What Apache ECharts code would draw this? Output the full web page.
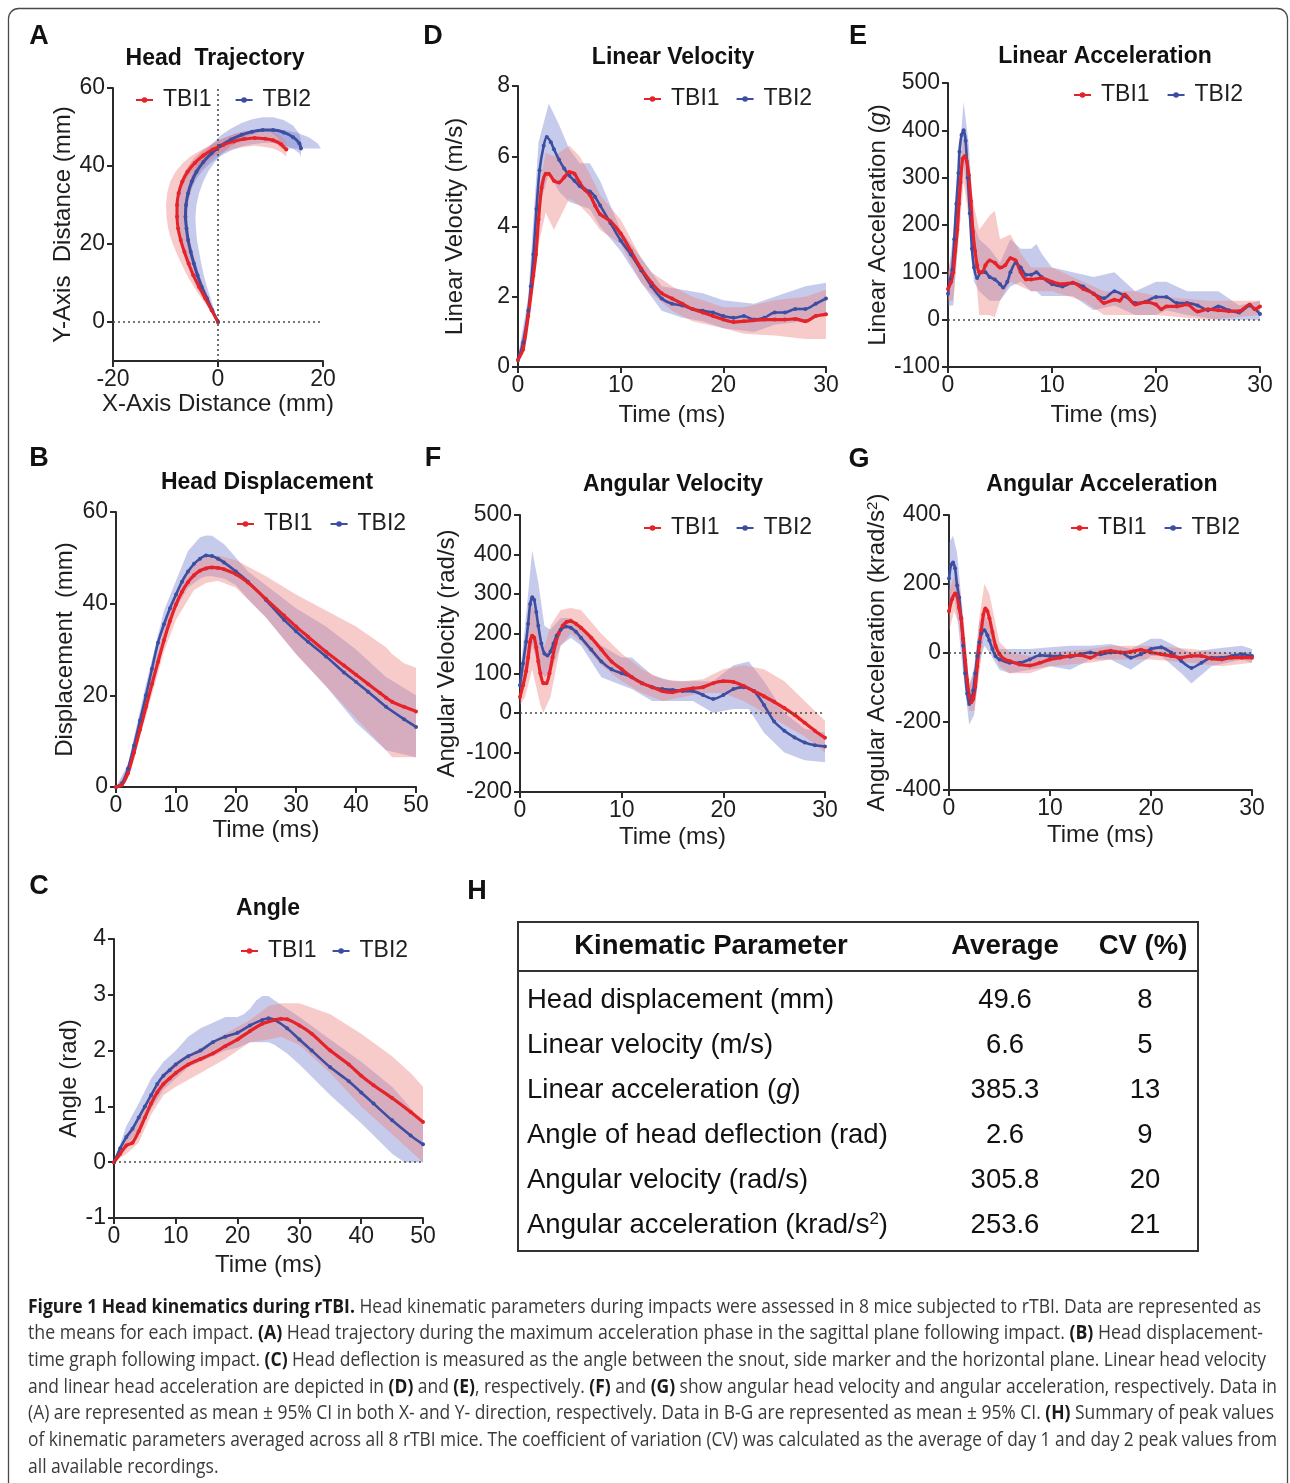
<!DOCTYPE html>
<html>
<head>
<meta charset="utf-8">
<script src="https://cdn.jsdelivr.net/npm/echarts@6/dist/echarts.min.js"></script>
<style>
html,body{margin:0;padding:0;background:#fff;}
#c{width:1290px;height:1483px;}
</style>
</head>
<body>
<div id="c"></div>
<script>
// ---------------- DATA ----------------
// A: head trajectory [x, y, xErr, yErr] (mm)
const trajTBI1 = [[0,0,0.1,0.1],[-1.2,3,0.4,0.2],[-2.4,6,0.7,0.3],[-3.6,9,1.0,0.4],[-4.7,12,1.2,0.5],[-5.6,15,1.4,0.6],[-6.4,18,1.6,0.6],[-7.1,21,1.8,0.7],[-7.6,24,1.9,0.8],[-7.8,27,2.0,0.9],[-7.8,30,2.1,1.0],[-7.5,33,2.2,1.1],[-6.8,36,2.3,1.2],[-5.8,38.5,2.3,1.3],[-4.4,40.8,2.3,1.5],[-2.8,42.7,2.2,1.6],[-1,44.2,2.0,1.7],[1,45.4,1.8,1.8],[3,46.3,1.5,1.9],[5,46.9,1.2,2.0],[7,47.2,1.0,2.0],[9,47.0,0.9,2.1],[10.5,46.6,0.8,2.1],[12,45.6,0.8,2.0],[13,44.2,0.6,1.8]];
const trajTBI2 = [[0,0,0.1,0.1],[-1.1,3,0.4,0.2],[-2.1,6,0.7,0.3],[-3.1,9,1.0,0.4],[-3.9,12,1.2,0.5],[-4.6,15,1.4,0.6],[-5.2,18,1.6,0.7],[-5.7,21,1.7,0.8],[-6.0,24,1.8,0.9],[-6.2,27,1.9,1.0],[-6.1,30,2.0,1.2],[-5.7,33,2.1,1.4],[-5.0,36,2.2,1.6],[-4.1,38.5,2.2,1.8],[-2.8,41,2.2,2.0],[-1.2,43.3,2.1,2.3],[0.5,45.2,2.0,2.6],[2.5,46.8,1.9,2.8],[4.5,48,1.8,3.0],[6.5,48.8,1.8,3.2],[8.5,49.2,1.8,3.3],[10.5,49.2,2.0,3.3],[12.5,48.6,2.4,3.2],[14.3,47.4,3.0,3.0],[15.5,45.8,3.5,2.5],[15.8,44.5,3.8,2.2]];

// B: head displacement [t(ms), mm]  and CI bands [t, lo, hi]
const dispTBI1 = [[0,0],[1,0.5],[2,3],[3,7.5],[4,12.5],[5,17.5],[6,22.5],[7,27.3],[8,32],[9,36.2],[10,39.8],[11,42.6],[12,44.7],[13,46.2],[14,47.2],[15,47.7],[16,47.9],[17,47.8],[18,47.5],[20,46.4],[22,44.6],[25,41],[28,37.4],[30,35],[32,32.8],[35,29.5],[38,26.5],[40,24.5],[42,22.5],[44,20.5],[45,19.5],[46,18.6],[48,17.5],[50,16.5]];
const dispTBI2 = [[0,0],[1,0.8],[2,4],[3,9],[4,14.5],[5,20],[6,25.8],[7,31.5],[8,35.5],[9,39],[10,42],[11,44.8],[12,47],[13,48.7],[14,49.8],[15,50.5],[16,50.4],[17,49.8],[18,49],[20,47],[22,44.8],[25,40.8],[28,36.5],[30,34],[32,31.7],[35,28.5],[38,25],[40,22.9],[42,20.8],[45,17.5],[48,14.8],[50,13.1]];
const dispBand1 = [[0,0,0],[2,2,4],[5,15.5,19.5],[8,29.5,34.5],[10,36.5,42],[13,43,49],[15,44.5,50],[17,45,50.5],[20,43.5,49.5],[25,37,46],[30,29,42],[35,22,38.5],[40,15,35],[45,8,30.5],[46,6.5,29],[48,6.5,27],[50,6.5,26]];
const dispBand2 = [[0,0,0],[2,3,5],[5,17.5,22.5],[8,32,38.5],[10,39,45],[12,43.5,51.5],[14,45.5,54.5],[15,46,54.9],[16,46,54.8],[18,45.5,53],[20,44,50],[22,41,47],[25,37,44],[30,29,39],[35,22,35],[40,14,30],[45,8,24],[50,6.5,20]];

// C: angle [t, rad]
const angTBI1 = [[0,0],[1,0.15],[2,0.3],[3,0.35],[4,0.55],[5,0.8],[6,1.05],[7,1.25],[8,1.4],[9,1.5],[10,1.6],[12,1.75],[14,1.85],[16,1.95],[18,2.08],[20,2.2],[22,2.35],[24,2.48],[26,2.55],[27,2.57],[28,2.56],[30,2.45],[32,2.3],[35,2.0],[38,1.75],[40,1.55],[42,1.38],[45,1.15],[48,0.9],[50,0.72]];
const angTBI2 = [[0,0],[1,0.25],[2,0.45],[3,0.6],[4,0.8],[5,1.0],[6,1.2],[7,1.4],[8,1.55],[9,1.65],[10,1.75],[12,1.9],[14,2.0],[16,2.15],[18,2.25],[20,2.32],[22,2.45],[24,2.55],[25,2.58],[26,2.55],[28,2.4],[30,2.2],[32,2.0],[35,1.7],[38,1.45],[40,1.25],[42,1.05],[45,0.75],[48,0.48],[50,0.32]];
const angBand1 = [[0,0,0],[2,0.15,0.5],[4,0.35,0.75],[6,0.85,1.25],[8,1.2,1.6],[10,1.35,1.8],[14,1.6,2.05],[18,1.85,2.3],[22,2.15,2.55],[25,2.2,2.8],[27,2.25,2.85],[30,2.1,2.85],[35,1.6,2.65],[40,1.0,2.3],[45,0.5,1.9],[48,0.2,1.6],[50,0,1.35]];
const angBand2 = [[0,0,0],[2,0.3,0.65],[4,0.55,1.05],[6,0.95,1.5],[8,1.3,1.8],[10,1.5,2.0],[12,1.7,2.25],[14,1.8,2.4],[16,1.9,2.5],[18,2.0,2.6],[20,2.05,2.6],[21,2.1,2.65],[22,2.15,2.75],[23,2.15,2.9],[24,2.15,2.98],[25,2.15,2.98],[26,2.1,2.9],[28,1.95,2.75],[30,1.75,2.6],[35,1.2,2.2],[40,0.7,1.8],[45,0.15,1.35],[47,0,1.1],[50,0,0.7]];

// D: linear velocity [t, m/s]
const velTBI1 = [[0,0.2],[0.5,0.5],[1,1.45],[1.5,2.6],[1.75,3.2],[2,4.2],[2.3,5.1],[2.7,5.5],[3,5.5],[3.5,5.3],[4,5.25],[4.5,5.4],[5,5.55],[5.5,5.5],[6,5.25],[6.5,5.05],[7,4.9],[7.5,4.6],[8,4.35],[9,4.15],[10,3.8],[11,3.3],[12,2.8],[13,2.4],[14,2.1],[15,1.95],[16,1.8],[17,1.65],[18,1.55],[19,1.45],[20,1.35],[21,1.28],[22,1.3],[23,1.33],[24,1.35],[25,1.35],[26,1.35],[27,1.37],[28,1.3],[29,1.45],[30,1.5]];
const velTBI2 = [[0,0.2],[0.5,0.7],[1,1.6],[1.25,2.3],[1.5,3.2],[1.8,4.5],[2.1,5.6],[2.5,6.3],[2.8,6.55],[3.2,6.4],[3.5,6.2],[4,5.9],[4.5,5.65],[5,5.45],[5.5,5.3],[6,5.15],[6.5,5.05],[7,5.0],[7.5,4.85],[8,4.6],[9,4.1],[10,3.6],[11,3.2],[12,2.75],[13,2.3],[14,1.95],[15,1.8],[16,1.75],[17,1.65],[18,1.6],[19,1.55],[20,1.45],[21,1.4],[22,1.45],[23,1.35],[24,1.4],[25,1.55],[26,1.55],[27,1.65],[28,1.65],[29,1.8],[30,1.95]];
const velBand1 = [[0,0.1,0.3],[1,1.2,1.7],[2,3.5,5.0],[2.7,4.4,6.1],[3.5,3.9,6.0],[4.5,4.5,6.2],[5,4.8,6.3],[6,4.6,6.0],[7,4.3,5.5],[8,3.9,4.9],[10,3.5,4.2],[12,2.4,3.1],[13,2.1,2.7],[15,1.6,2.3],[17,1.3,2.0],[20,1.1,1.7],[22,0.95,1.7],[25,0.9,1.9],[28,0.8,2.0],[30,0.8,2.2]];
const velBand2 = [[0,0.1,0.3],[1,1.3,2.0],[2,4.5,6.4],[3,5.5,7.5],[4,5.0,6.9],[5,4.7,6.2],[6,4.6,5.8],[7,4.5,5.8],[8,4.0,5.3],[10,3.3,3.9],[12,2.4,3.1],[14,1.6,2.3],[16,1.4,2.2],[18,1.3,2.1],[20,1.1,1.9],[23,1.0,1.8],[25,1.2,2.0],[28,1.3,2.3],[30,1.5,2.4]];

// E: linear acceleration [t, g]
const accTBI1 = [[0,65],[0.3,80],[0.5,100],[0.7,145],[0.9,190],[1.05,245],[1.2,290],[1.4,340],[1.6,345],[1.8,335],[2.0,305],[2.2,250],[2.4,185],[2.6,145],[2.8,115],[3.0,100],[3.3,100],[3.6,115],[4.0,125],[4.5,120],[5,110],[5.5,115],[6,130],[6.5,125],[7,100],[7.5,85],[8,85],[9,88],[10,80],[11,75],[12,78],[13,65],[14,55],[14.5,45],[15,35],[16,42],[16.5,40],[17,53],[18,32],[19,37],[20,32],[20.5,22],[21,28],[22,28],[23,32],[24,17],[25,22],[26,20],[27,18],[28,18],[29,32],[29.5,22],[30,28]];
const accTBI2 = [[0,55],[0.2,85],[0.4,105],[0.6,170],[0.8,245],[1.0,310],[1.1,355],[1.3,390],[1.5,400],[1.7,378],[1.9,300],[2.1,225],[2.3,150],[2.5,110],[2.8,88],[3.2,100],[3.6,100],[4.0,90],[4.5,85],[5,75],[5.3,68],[5.7,80],[6,100],[6.5,120],[7,110],[7.5,95],[8,95],[8.5,100],[9,90],[10,75],[11,70],[12,78],[13,70],[14,55],[15,45],[16,60],[17,50],[18,35],[19,38],[20,48],[21,48],[22,35],[23,35],[24,30],[25,20],[26,28],[27,20],[28,15],[29,30],[30,12]];
const accBand1 = [[0,40,100],[0.5,40,150],[1.5,290,390],[2.5,140,240],[3,10,190],[4,10,220],[4.5,5,230],[5,40,170],[6,80,180],[7,70,140],[8,60,110],[10,60,110],[13,40,80],[15,10,60],[18,10,60],[20,10,50],[25,0,40],[30,10,40]];
const accBand2 = [[0,30,90],[0.5,30,180],[1.5,330,460],[2,230,370],[2.5,80,200],[3,60,170],[4,40,150],[5,40,120],[6,70,170],[7,80,150],[8,60,150],[8.5,60,160],[9,50,140],[10,50,110],[12,50,100],[14,20,90],[16,30,100],[18,10,60],[20,10,80],[21,20,80],[23,10,60],[26,0,60],[28,0,30],[30,0,40]];

// F: angular velocity [t, rad/s]
const avTBI1 = [[0,40],[0.3,70],[0.6,105],[0.8,140],[1.0,180],[1.2,195],[1.4,190],[1.6,165],[1.8,130],[2.0,100],[2.3,75],[2.6,75],[2.9,100],[3.2,140],[3.5,175],[3.8,200],[4.2,220],[4.6,230],[5,232],[5.5,225],[6,215],[7,190],[8,160],[9,130],[10,110],[11,90],[12,75],[13,65],[14,55],[15,52],[16,58],[17,62],[18,65],[19,75],[20,80],[21,78],[22,68],[23,55],[24,42],[25,28],[26,12],[27,-5],[28,-25],[29,-45],[30,-63]];
const avTBI2 = [[0,70],[0.3,125],[0.6,180],[0.8,225],[1.0,275],[1.2,292],[1.4,285],[1.6,255],[1.8,220],[2.1,175],[2.4,150],[2.7,145],[3.0,155],[3.3,175],[3.6,195],[4,210],[4.5,218],[5,215],[5.5,205],[6,190],[7,160],[8,130],[9,110],[10,100],[11,90],[12,75],[13,65],[14,60],[15,58],[16,55],[17,55],[18,45],[19,35],[20,45],[21,60],[22,65],[23,55],[24,20],[25,-22],[26,-45],[27,-62],[28,-75],[29,-82],[30,-85]];
const avBand1 = [[0,20,60],[0.5,40,140],[1.2,110,280],[2.0,20,200],[2.3,0,160],[3,40,220],[4,170,260],[5,200,265],[6,180,260],[8,120,200],[10,80,150],[12,50,110],[14,30,85],[16,40,80],[18,50,85],[20,50,110],[22,30,120],[24,0,110],[26,-30,80],[28,-60,30],[30,-100,-20]];
const avBand2 = [[0,40,100],[0.5,70,220],[1.2,170,410],[1.8,120,330],[2.4,90,220],[3,100,210],[4,170,240],[5,190,240],[6,170,220],[8,90,170],[10,70,140],[11,60,140],[13,30,95],[15,30,80],[17,30,80],[19,0,80],[21,10,120],[22.5,10,130],[24,-50,80],[26,-100,0],[28,-120,-40],[30,-125,-50]];

// G: angular acceleration [t, krad/s^2]
const aaTBI1 = [[0,120],[0.3,155],[0.6,172],[0.8,165],[1.0,130],[1.2,100],[1.4,40],[1.6,-22],[1.8,-80],[2.0,-125],[2.2,-145],[2.4,-135],[2.6,-100],[2.8,-40],[3.0,20],[3.2,65],[3.4,110],[3.6,128],[3.8,120],[4.0,100],[4.3,60],[4.6,20],[5,-5],[5.5,-20],[6,-25],[7,-35],[8,-38],[9,-30],[10,-20],[11,-15],[12,-10],[13,-8],[14,-15],[15,0],[16,5],[17,0],[18,2],[19,8],[20,0],[21,-5],[22,-10],[23,-15],[24,-10],[25,-10],[26,-18],[27,-20],[28,-15],[29,-15],[30,-15]];
const aaTBI2 = [[0,215],[0.2,255],[0.4,262],[0.6,245],[0.8,195],[1.0,160],[1.2,100],[1.4,20],[1.6,-60],[1.8,-120],[2.0,-150],[2.2,-140],[2.4,-110],[2.6,-60],[2.8,-10],[3.0,30],[3.2,55],[3.5,65],[3.8,50],[4.0,35],[4.3,10],[4.6,-10],[5,-20],[6,-30],[7,-30],[8,-20],[9,-8],[10,-10],[11,-10],[12,-12],[13,-5],[14,0],[15,-5],[16,0],[17,0],[18,-15],[19,-5],[20,10],[21,15],[22,0],[23,-25],[24,-45],[25,-30],[26,-15],[27,-15],[28,-10],[29,-5],[30,-10]];
const aaBand1 = [[0,60,180],[0.5,120,220],[1,80,200],[1.5,-50,80],[2,-170,-90],[2.5,-170,-60],[3,-60,100],[3.5,60,200],[4,40,170],[5,-40,30],[6,-60,0],[8,-60,-10],[10,-40,0],[14,-30,10],[16,-20,20],[20,-20,20],[24,-30,10],[27,-40,0],[30,-30,0]];
const aaBand2 = [[0,100,320],[0.4,180,340],[0.8,110,290],[1.4,-60,100],[2,-210,-100],[2.5,-180,-40],[3,-30,90],[3.5,20,110],[4,0,80],[5,-50,10],[6,-60,10],[8,-50,10],[10,-40,15],[12,-50,20],[14,-20,20],[16,-20,25],[18,-50,10],[20,-10,40],[21,-10,40],[23,-60,10],[24,-90,0],[26,-40,10],[29,-20,20],[30,-30,10]];

// H: summary table
const tableHeader = ['Kinematic Parameter','Average','CV (%)'];
const tableParams = ['Head displacement (mm)','Linear velocity (m/s)','Linear acceleration ({i|g})','Angle of head deflection (rad)','Angular velocity (rad/s)','Angular acceleration (krad/s{sup|2})'];
const tableAvg = ['49.6','6.6','385.3','2.6','305.8','253.6'];
const tableCV = ['8','5','13','9','20','21'];

const seriesNames = ['TBI1','TBI2'];

const captionLines = [
 '**Figure 1 Head kinematics during rTBI.** Head kinematic parameters during impacts were assessed in 8 mice subjected to rTBI. Data are represented as',
 'the means for each impact. **(A)** Head trajectory during the maximum acceleration phase in the sagittal plane following impact. **(B)** Head displacement-',
 'time graph following impact. **(C)** Head deflection is measured as the angle between the snout, side marker and the horizontal plane. Linear head velocity',
 'and linear head acceleration are depicted in **(D)** and **(E)**, respectively. **(F)** and **(G)** show angular head velocity and angular acceleration, respectively. Data in',
 '(A) are represented as mean \u00b1 95% CI in both X- and Y- direction, respectively. Data in B-G are represented as mean \u00b1 95% CI. **(H)** Summary of peak values',
 'of kinematic parameters averaged across all 8 rTBI mice. The coefficient of variation (CV) was calculated as the average of day 1 and day 2 peak values from',
 'all available recordings.'
];

// ---------------- STYLE / BUILD ----------------
const FONT = '"Liberation Sans", Arial, Helvetica, sans-serif';
const RED = '#e52329', BLUE = '#3b4ea2';
const RED_FILL = 'rgba(238,125,125,0.4)', BLUE_FILL = 'rgba(115,125,205,0.4)';
const AX = '#2a2a2a', TXT = '#1e1e1e';

const grids = [], xAxes = [], yAxes = [], series = [], legends = [], graphics = [];

const nameRich = {
  i: {fontStyle:'italic', fontSize:24, fontFamily:FONT, color:TXT},
  sup: {fontSize:15, fontFamily:FONT, color:TXT, verticalAlign:'top'}
};

function axis(gi, o, isX) {
  const a = {
    type:'value', gridIndex:gi, min:o.min, max:o.max,
    axisLine:{show:true, onZero:false, lineStyle:{color:AX, width:2}},
    axisTick:{show:true, length:6, lineStyle:{color:AX, width:2}},
    axisLabel:{color:TXT, fontSize:23, fontFamily:FONT, margin: isX ? 7 : 8},
    splitLine:{show:false},
    name:o.name, nameLocation:'middle', nameGap:o.gap,
    nameTextStyle:{fontSize:24, color:TXT, fontFamily:FONT, rich:nameRich}
  };
  if (o.interval != null) a.interval = o.interval;
  if (o.custom) { a.axisTick.customValues = o.custom; a.axisLabel.customValues = o.custom; }
  return a;
}

function polySeries(gi, ptsFn, fill) {
  return {
    type:'custom', name:'ci', xAxisIndex:gi, yAxisIndex:gi, silent:true, z:2,
    data:[[0,0]],
    renderItem:(p, api) => ({type:'polygon', shape:{points:ptsFn(api)}, style:{fill:fill}})
  };
}
const bandPts = band => api =>
  band.map(b => api.coord([b[0], b[2]])).concat(band.map(b => api.coord([b[0], b[1]])).reverse());
const errXPts = tr => api =>
  tr.map(p => api.coord([p[0]-p[2], p[1]])).concat(tr.map(p => api.coord([p[0]+p[2], p[1]])).reverse());
const errYPts = tr => api =>
  tr.map(p => api.coord([p[0], p[1]+p[3]])).concat(tr.map(p => api.coord([p[0], p[1]-p[3]])).reverse());

function lineSeries(gi, name, data, color, width, extra) {
  return Object.assign({
    type:'line', name:name, xAxisIndex:gi, yAxisIndex:gi, data:data,
    symbol:'circle', symbolSize:4, showSymbol:true, smooth:0.25, silent:true, z:3,
    lineStyle:{color:color, width:width}, itemStyle:{color:color}
  }, extra || {});
}

function zeroMark(vertical) {
  const d = [{yAxis:0}];
  if (vertical) d.push({xAxis:0});
  return {silent:true, symbol:'none', label:{show:false}, animation:false,
          lineStyle:{color:'#4a4a4a', type:[2,3], width:1.6}, data:d};
}

function panel(p) {
  const gi = grids.length;
  grids.push({left:p.box[0], top:p.box[1], width:p.box[2], height:p.box[3], outerBoundsMode:'none'});
  xAxes.push(axis(gi, p.x, true));
  yAxes.push(axis(gi, p.y, false));
  if (p.traj) {
    series.push(polySeries(gi, errXPts(p.traj[1]), BLUE_FILL));
    series.push(polySeries(gi, errYPts(p.traj[1]), BLUE_FILL));
    series.push(lineSeries(gi, seriesNames[1], p.traj[1].map(d => [d[0], d[1]]), BLUE, 3, {smooth:0.3}));
    series.push(polySeries(gi, errXPts(p.traj[0]), RED_FILL));
    series.push(polySeries(gi, errYPts(p.traj[0]), RED_FILL));
    series.push(lineSeries(gi, seriesNames[0], p.traj[0].map(d => [d[0], d[1]]), RED, 3,
      {smooth:0.3, markLine: zeroMark(true)}));
  } else {
    series.push(polySeries(gi, bandPts(p.bands[1]), BLUE_FILL));
    series.push(lineSeries(gi, seriesNames[1], p.lines[1], BLUE, 2.6));
    series.push(polySeries(gi, bandPts(p.bands[0]), RED_FILL));
    const ex = p.zero ? {markLine: zeroMark(false)} : {};
    series.push(lineSeries(gi, seriesNames[0], p.lines[0], RED, 3.2, ex));
  }
  legends.push({
    left:p.legend[0], top:p.legend[1] - 9.5, itemGap:p.legend[2], padding:0,
    data:seriesNames, itemWidth:17, itemHeight:7, selectedMode:false,
    textStyle:{fontSize:23, color:TXT, fontFamily:FONT, padding:[0,0,0,5]}
  });
  graphics.push({type:'text', x:p.title[0], y:p.title[1], silent:true,
    style:{text:p.title[2], fontSize:23, fontWeight:'bold', fontFamily:FONT, fill:'#111', align:'center', verticalAlign:'middle'}});
  graphics.push({type:'text', x:p.letter[0], y:p.letter[1], silent:true,
    style:{text:p.letter[2], fontSize:27, fontWeight:'bold', fontFamily:FONT, fill:'#111', align:'center', verticalAlign:'middle'}});
}

// A
panel({box:[113,88,210,273],
  x:{min:-20,max:20,interval:20,name:'X-Axis Distance (mm)',gap:31},
  y:{min:-10,max:60,custom:[0,20,40,60],name:'Y-Axis  Distance (mm)',gap:38},
  traj:[trajTBI1, trajTBI2], legend:[135,98,23], title:[215,59,'Head  Trajectory'], letter:[39,37,'A']});
// D
panel({box:[518,86,308,281],
  x:{min:0,max:30,interval:10,name:'Time (ms)',gap:36},
  y:{min:0,max:8,interval:2,name:'Linear Velocity (m/s)',gap:51},
  lines:[velTBI1, velTBI2], bands:[velBand1, velBand2], zero:false,
  legend:[643,97,16], title:[673,58,'Linear Velocity'], letter:[433,37,'D']});
// E
panel({box:[948,83,312,284],
  x:{min:0,max:30,interval:10,name:'Time (ms)',gap:36},
  y:{min:-100,max:500,interval:100,name:'Linear Acceleration ({i|g})',gap:53},
  lines:[accTBI1, accTBI2], bands:[accBand1, accBand2], zero:true,
  legend:[1073,93,17], title:[1105,57,'Linear Acceleration'], letter:[858,37,'E']});
// B
panel({box:[116,512,300,275],
  x:{min:0,max:50,interval:10,name:'Time (ms)',gap:31},
  y:{min:0,max:60,interval:20,name:'Displacement  (mm)',gap:39},
  lines:[dispTBI1, dispTBI2], bands:[dispBand1, dispBand2], zero:false,
  legend:[236,522,17], title:[267,483,'Head Displacement'], letter:[39,459,'B']});
// F
panel({box:[520,515,305,277],
  x:{min:0,max:30,interval:10,name:'Time (ms)',gap:33},
  y:{min:-200,max:500,interval:100,name:'Angular Velocity (rad/s)',gap:61},
  lines:[avTBI1, avTBI2], bands:[avBand1, avBand2], zero:true,
  legend:[643,526,16], title:[673,485,'Angular Velocity'], letter:[433,459,'F']});
// G
panel({box:[949,515,303,275],
  x:{min:0,max:30,interval:10,name:'Time (ms)',gap:33},
  y:{min:-400,max:400,interval:200,name:'Angular Acceleration (krad/s{sup|2})',gap:60},
  lines:[aaTBI1, aaTBI2], bands:[aaBand1, aaBand2], zero:true,
  legend:[1070,526,17], title:[1102,485,'Angular Acceleration'], letter:[859,460,'G']});
// C
panel({box:[114,939,309,279],
  x:{min:0,max:50,interval:10,name:'Time (ms)',gap:35},
  y:{min:-1,max:4,interval:1,name:'Angle (rad)',gap:30},
  lines:[angTBI1, angTBI2], bands:[angBand1, angBand2], zero:true,
  legend:[240,949,15], title:[268,909,'Angle'], letter:[39,887,'C']});

// ---------------- TABLE (H) ----------------
graphics.push({type:'text', x:477, y:892, silent:true,
  style:{text:'H', fontSize:27, fontWeight:'bold', fontFamily:FONT, fill:'#111', align:'center', verticalAlign:'middle'}});
graphics.push({type:'rect', silent:true, shape:{x:518, y:922, width:680, height:329},
  style:{fill:'none', stroke:'#333', lineWidth:2}});
graphics.push({type:'line', silent:true, shape:{x1:518, y1:971, x2:1198, y2:971},
  style:{stroke:'#333', lineWidth:2}});
const hdrX = [711, 1005, 1143];
tableHeader.forEach((h, i) => graphics.push({type:'text', x:hdrX[i], y:946, silent:true,
  style:{text:h, fontSize:27.5, fontWeight:'bold', fontFamily:FONT, fill:'#111', align:'center', verticalAlign:'middle'}}));
const tblRich = {
  i:{fontStyle:'italic', fontSize:27.5, fontFamily:FONT, fill:'#111'},
  sup:{fontSize:17, fontFamily:FONT, fill:'#111', verticalAlign:'top'}
};
tableParams.forEach((t, r) => {
  const y = 1000 + r * 45;
  graphics.push({type:'text', x:527, y:y, silent:true,
    style:{text:t, rich:tblRich, fontSize:27.5, fontFamily:FONT, fill:'#111', align:'left', verticalAlign:'middle'}});
  graphics.push({type:'text', x:1005, y:y, silent:true,
    style:{text:tableAvg[r], fontSize:27.5, fontFamily:FONT, fill:'#111', align:'center', verticalAlign:'middle'}});
  graphics.push({type:'text', x:1145, y:y, silent:true,
    style:{text:tableCV[r], fontSize:27.5, fontFamily:FONT, fill:'#111', align:'center', verticalAlign:'middle'}});
});

// ---------------- CAPTION ----------------
const CAP_FAMILY = '"Open Sans", "Noto Sans", sans-serif';
const CAP_SIZE = 19.5;
const capEnds = [1261, 1263, 1266, 1277, 1274, 1277, null];
const mctx = document.createElement('canvas').getContext('2d');
function segs(line) { return line.split('**').map((s, i) => ({s:s, b: i % 2 === 1})).filter(o => o.s.length); }
function measureLine(line) {
  let w = 0;
  segs(line).forEach(o => { mctx.font = (o.b ? 'bold ' : '') + CAP_SIZE + 'px ' + CAP_FAMILY; w += mctx.measureText(o.s).width; });
  return w;
}
const capScales = captionLines.map((l, i) => capEnds[i] ? (capEnds[i] - 28) / measureLine(l) : null);
const validScales = capScales.filter(s => s);
const avgScale = validScales.reduce((a, b) => a + b, 0) / validScales.length;
captionLines.forEach((l, i) => {
  const rich = segs(l).map(o => '{' + (o.b ? 'b' : 'n') + '|' + o.s + '}').join('');
  graphics.push({type:'text', x:28, y:1307 + i * 26.7, scaleX: capScales[i] || avgScale, silent:true,
    style:{text:rich, align:'left', verticalAlign:'middle', fontSize:CAP_SIZE, fontFamily:CAP_FAMILY,
      rich:{
        n:{fontSize:CAP_SIZE, fontFamily:CAP_FAMILY, fill:'#3a3a3a'},
        b:{fontSize:CAP_SIZE, fontFamily:CAP_FAMILY, fontWeight:'bold', fill:'#1a1a1a'}
      }}});
});

// frame
graphics.push({type:'rect', silent:true, z:-10, shape:{x:8.5, y:8.5, width:1279, height:1500, r:10},
  style:{fill:'none', stroke:'#4a4a4a', lineWidth:1.3}});

const chart = echarts.init(document.getElementById('c'), null, {renderer:'canvas', width:1290, height:1483});
chart.setOption({
  animation:false,
  backgroundColor:'#ffffff',
  grid:grids, xAxis:xAxes, yAxis:yAxes, series:series, legend:legends,
  graphic:{elements:graphics}
});
</script>
</body>
</html>
